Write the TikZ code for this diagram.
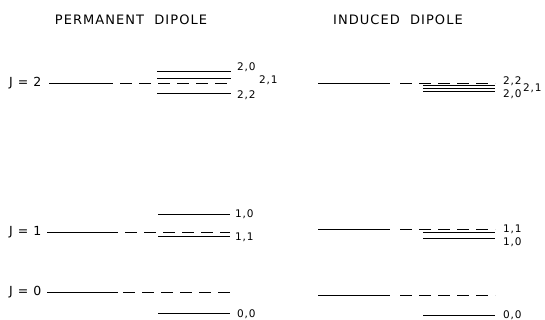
\documentclass[tikz,border=0pt]{standalone}
\usepackage{fontspec}
\setmainfont{DejaVu Sans}
\newfontfamily\lettering[LetterSpace=8]{DejaVu Sans}
\usepackage{tikz}

\tikzset{
  level/.style={line width=0.6pt},
  shifted/.style={line width=0.6pt, dash pattern=on 12pt off 7pt},
  title/.style={font=\lettering\fontsize{13}{15}\selectfont, inner sep=0pt},
  jlabel/.style={font=\lettering\fontsize{12.5}{14}\selectfont, anchor=west, inner sep=0pt},
  qlabel/.style={font=\lettering\fontsize{10.5}{12}\selectfont, anchor=west, inner sep=0pt}
}

\begin{document}
\begin{tikzpicture}[x=1pt,y=-1pt]
\useasboundingbox (0,0) rectangle (545,320);

\node[title](perm) at (131,20) {PERMANENT\ \ DIPOLE};
\node[title](ind) at (398,20) {INDUCED\ \ DIPOLE};

% permanent dipole
\node[jlabel](J2) at (9,83) {J = 2};
\node[jlabel](J1) at (9,232) {J = 1};
\node[jlabel](J0) at (9,292) {J = 0};

\draw[level] (49,83) -- (113,83);
\draw[shifted] (120,83) -- (231,83);
\draw[level] (157,71) -- (231,71);
\draw[level] (157,78) -- (231,78);
\draw[level] (157,93) -- (231,93);
\node[qlabel](p20) at (237,67) {2,0};
\node[qlabel](p21) at (259,80) {2,1};
\node[qlabel](p22) at (237,95) {2,2};

\draw[level] (47,232) -- (118,232);
\draw[shifted] (125,232) -- (230,232);
\draw[level] (158,214) -- (230,214);
\draw[level] (158,236) -- (230,236);
\node[qlabel](p10) at (235,214) {1,0};
\node[qlabel](p11) at (235,237) {1,1};

\draw[level] (47,292) -- (118,292);
\draw[shifted] (123,292) -- (230,292);
\draw[level] (158,313) -- (230,313);
\node[qlabel](p00) at (237,314) {0,0};

% induced dipole
\draw[level] (318,83) -- (390,83);
\draw[shifted] (400,83) -- (495,83);
\draw[level] (423,85.5) -- (495,85.5);
\draw[level] (423,88) -- (495,88);
\draw[level] (423,91) -- (495,91);
\node[qlabel](i22) at (503,81) {2,2};
\node[qlabel](i21) at (523,88) {2,1};
\node[qlabel](i20) at (503,94) {2,0};

\draw[level] (318,229) -- (390,229);
\draw[shifted] (400,229) -- (495,229);
\draw[level] (423,232) -- (495,232);
\draw[level] (423,238) -- (495,238);
\node[qlabel](i11) at (503,229) {1,1};
\node[qlabel](i10) at (503,242) {1,0};

\draw[level] (318,295) -- (390,295);
\draw[shifted] (400,295) -- (495,295);
\draw[level] (423,315) -- (495,315);
\node[qlabel](i00) at (503,315) {0,0};
\end{tikzpicture}
\end{document}
